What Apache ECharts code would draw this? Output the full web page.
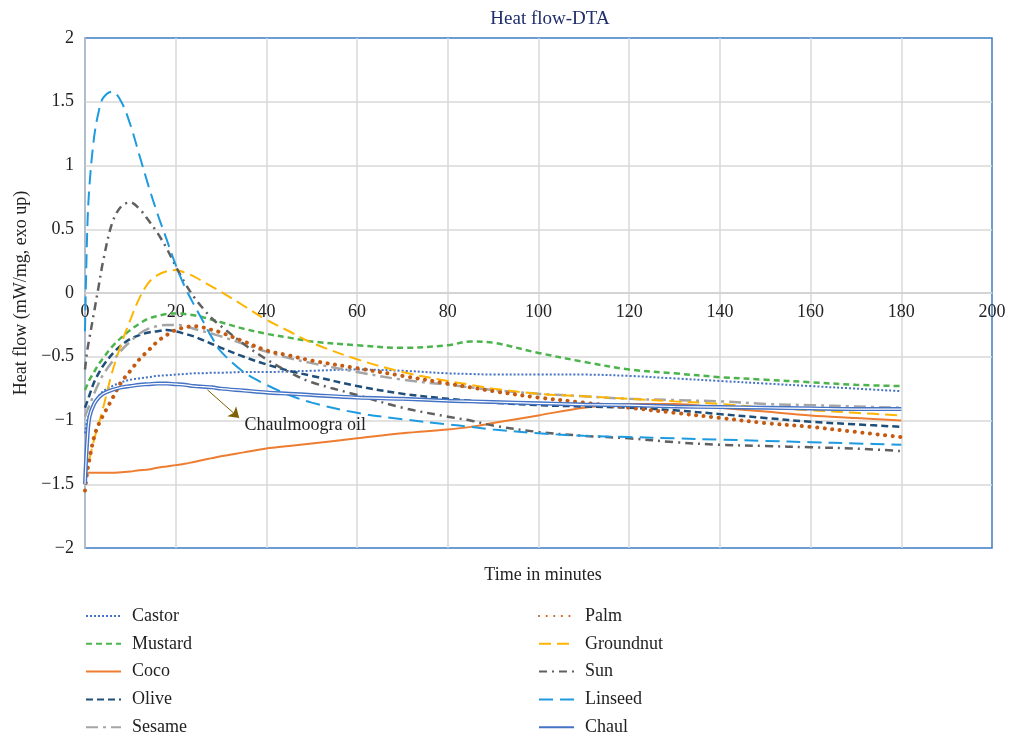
<!DOCTYPE html>
<html>
<head>
<meta charset="utf-8">
<script src="https://cdn.jsdelivr.net/npm/echarts@6/dist/echarts.min.js"></script>
<style>html,body{margin:0;padding:0;background:#fff}#c{width:1009px;height:737px}</style>
</head>
<body>
<div id="c"></div>
<script>
var times = [0, 0.5, 1, 2, 3, 4, 6, 8, 10, 12, 14, 16, 18, 20, 22, 24, 26, 28, 30, 35, 40, 45, 50, 60, 70, 80, 85, 90, 100, 110, 120, 130, 140, 150, 160, 170, 180];
var castor = [-1.1, -1.0, -0.95, -0.87, -0.81, -0.77, -0.73, -0.70, -0.68, -0.67, -0.66, -0.65, -0.645, -0.64, -0.635, -0.63, -0.63, -0.625, -0.625, -0.62, -0.62, -0.615, -0.61, -0.6, -0.61, -0.63, -0.635, -0.64, -0.64, -0.64, -0.65, -0.67, -0.69, -0.71, -0.73, -0.75, -0.77];
var mustard = [-0.76, -0.72, -0.68, -0.62, -0.56, -0.51, -0.42, -0.35, -0.29, -0.24, -0.2, -0.18, -0.165, -0.16, -0.165, -0.175, -0.19, -0.21, -0.23, -0.28, -0.32, -0.35, -0.38, -0.41, -0.43, -0.41, -0.38, -0.39, -0.47, -0.54, -0.6, -0.63, -0.66, -0.68, -0.70, -0.72, -0.73];
var coco = [-1.42, -1.41, -1.41, -1.41, -1.41, -1.41, -1.41, -1.405, -1.40, -1.39, -1.385, -1.37, -1.36, -1.35, -1.34, -1.325, -1.31, -1.295, -1.28, -1.25, -1.22, -1.2, -1.18, -1.14, -1.1, -1.07, -1.05, -1.02, -0.96, -0.9, -0.87, -0.87, -0.9, -0.93, -0.96, -0.98, -1.0];
var olive = [-0.9, -0.85, -0.8, -0.7, -0.63, -0.57, -0.48, -0.41, -0.36, -0.33, -0.31, -0.3, -0.29, -0.3, -0.32, -0.34, -0.37, -0.4, -0.43, -0.5, -0.56, -0.61, -0.65, -0.73, -0.79, -0.83, -0.845, -0.86, -0.88, -0.89, -0.9, -0.92, -0.95, -0.98, -1.01, -1.03, -1.05];
var sesame = [-0.97, -0.92, -0.88, -0.79, -0.71, -0.64, -0.54, -0.45, -0.38, -0.32, -0.28, -0.26, -0.25, -0.25, -0.26, -0.28, -0.3, -0.32, -0.34, -0.4, -0.46, -0.51, -0.55, -0.62, -0.68, -0.72, -0.74, -0.76, -0.79, -0.81, -0.83, -0.84, -0.85, -0.87, -0.88, -0.89, -0.9];
var palm = [-1.55, -1.4, -1.3, -1.13, -1.03, -0.96, -0.83, -0.7, -0.61, -0.52, -0.45, -0.38, -0.33, -0.29, -0.27, -0.26, -0.27, -0.29, -0.31, -0.38, -0.45, -0.49, -0.53, -0.59, -0.65, -0.71, -0.74, -0.77, -0.82, -0.86, -0.9, -0.94, -0.98, -1.02, -1.05, -1.09, -1.13];
var groundnut = [-1.45, -1.37, -1.3, -1.15, -1.03, -0.9, -0.62, -0.4, -0.21, -0.04, 0.08, 0.14, 0.17, 0.18, 0.16, 0.13, 0.09, 0.05, 0.01, -0.1, -0.21, -0.3, -0.39, -0.52, -0.62, -0.69, -0.72, -0.75, -0.79, -0.81, -0.83, -0.85, -0.87, -0.9, -0.92, -0.94, -0.96];
var sun = [-0.6, -0.45, -0.35, -0.15, 0.05, 0.25, 0.55, 0.68, 0.71, 0.66, 0.57, 0.47, 0.35, 0.21, 0.08, -0.03, -0.12, -0.2, -0.26, -0.4, -0.52, -0.62, -0.7, -0.8, -0.9, -0.97, -1.0, -1.04, -1.09, -1.12, -1.14, -1.17, -1.19, -1.2, -1.21, -1.22, -1.24];
var linseed = [-0.3, 0.5, 0.85, 1.22, 1.42, 1.53, 1.58, 1.5, 1.32, 1.08, 0.84, 0.62, 0.42, 0.22, 0.05, -0.09, -0.22, -0.35, -0.46, -0.62, -0.72, -0.8, -0.86, -0.94, -0.99, -1.03, -1.05, -1.07, -1.1, -1.12, -1.13, -1.14, -1.15, -1.16, -1.17, -1.18, -1.19];
var chaul = [-1.5, -1.15, -0.97, -0.87, -0.82, -0.79, -0.76, -0.74, -0.73, -0.72, -0.715, -0.71, -0.71, -0.715, -0.72, -0.73, -0.735, -0.74, -0.75, -0.765, -0.78, -0.79, -0.8, -0.82, -0.83, -0.845, -0.85, -0.855, -0.865, -0.875, -0.88, -0.89, -0.895, -0.9, -0.905, -0.91, -0.91];
var xTicks = {min: 0, max: 200, interval: 20};
var yTicks = {min: -2, max: 2, interval: 0.5};
var arrowFrom = [27, -0.76], arrowTo = [34, -0.98], noteAt = [34.5, -1.04];
var noteText = 'Chaulmoogra oil';

function pairs(v) { return times.map(function (t, i) { return [t, v[i]]; }); }
var FONT = '"Liberation Serif", "DejaVu Serif", serif';
var GRID = {left: 85, right: 17, top: 38, bottom: 189};
var plotH = 737 - GRID.top - GRID.bottom;
// x-axis labels sit on the y = 0 line
var zeroOffset = -((0 - yTicks.min) / (yTicks.max - yTicks.min)) * plotH;

function mk(name, data, color, width, type, extra) {
  var s = {
    name: name, type: 'line', data: pairs(data), showSymbol: false, symbol: 'none',
    smooth: 0.35,
    lineStyle: {color: color, width: width, type: type, cap: 'butt'},
    itemStyle: {color: color}, z: 3
  };
  if (extra) for (var k in extra) s[k] = extra[k];
  return s;
}
var series = [
  mk('Castor', castor, '#4472c4', 2, [2, 2]),
  mk('Mustard', mustard, '#4db34d', 2.5, [6, 4]),
  mk('Coco', coco, '#ed7d31', 2, 'solid'),
  mk('Olive', olive, '#1f4e79', 2.5, [7, 4]),
  mk('Sesame', sesame, '#a5a5a5', 2.5, [12, 5, 3, 5]),
  mk('Groundnut', groundnut, '#ffb400', 2, [12, 6]),
  mk('Sun', sun, '#606060', 2.5, [8, 5, 2, 5]),
  mk('Linseed', linseed, '#1e9be0', 2, [14, 7]),
  mk('Palm', palm, '#c55a11', 4, [0.1, 7.5]),
  mk('Chaul', chaul, '#4472c4', 4, 'solid', {
    markLine: {
      silent: true, animation: false, symbol: ['none', 'arrow'], symbolSize: 10,
      lineStyle: {color: '#7f6000', width: 1, type: 'solid'}, label: {show: false},
      data: [[{coord: arrowFrom}, {coord: arrowTo}]]
    },
    markPoint: {
      silent: true, animation: false, symbol: 'circle', symbolSize: 0,
      itemStyle: {color: 'transparent'},
      label: {show: true, position: 'right', distance: 3, formatter: noteText, fontFamily: FONT, fontSize: 18, color: '#222'},
      data: [{coord: noteAt}]
    }
  }),
  mk('ChaulInner', chaul, '#ffffff', 1.2, 'solid', {z: 4})
];
series[8].lineStyle.cap = 'round';

var legendText = {fontFamily: FONT, fontSize: 18, color: '#222', padding: [0, 0, 0, 6]};
function legendAt(left, names) {
  return {orient: 'vertical', left: left, top: 607, height: 400, padding: 0, itemWidth: 35, itemHeight: 14, itemGap: 9.8,
    itemStyle: {opacity: 0}, textStyle: legendText, data: names};
}
var option = {
  animation: false,
  backgroundColor: '#fff',
  title: [
    {text: 'Heat flow-DTA', left: 545, top: 5, textAlign: 'center',
      textStyle: {fontFamily: FONT, fontSize: 19, fontWeight: 'normal', color: '#1f2d6b'}},
    {text: 'Time in minutes', left: 538, top: 561, textAlign: 'center',
      textStyle: {fontFamily: FONT, fontSize: 18, fontWeight: 'normal', color: '#222'}}
  ],
  grid: {left: GRID.left, right: GRID.right, top: GRID.top, bottom: GRID.bottom, show: true, borderColor: '#3c7cc4', borderWidth: 1.5, backgroundColor: 'transparent'},
  legend: [
    legendAt(85, ['Castor', 'Mustard', 'Coco', 'Olive', 'Sesame']),
    legendAt(538, ['Palm', 'Groundnut', 'Sun', 'Linseed', 'Chaul'])
  ],
  xAxis: {type: 'value', min: xTicks.min, max: xTicks.max, interval: xTicks.interval,
    position: 'bottom', offset: zeroOffset,
    axisLine: {show: true, onZero: false, lineStyle: {color: '#d0d0d0', width: 1.5}},
    axisTick: {show: false},
    axisLabel: {fontFamily: FONT, fontSize: 18, color: '#222', margin: 10},
    splitLine: {show: true, showMinLine: false, showMaxLine: false, lineStyle: {color: '#d9d9d9', width: 1.5}}},
  yAxis: {type: 'value', min: yTicks.min, max: yTicks.max, interval: yTicks.interval,
    axisLine: {show: true, onZero: false, lineStyle: {color: '#c8c8c8', width: 1.5}},
    axisTick: {show: false},
    axisLabel: {fontFamily: FONT, fontSize: 18, color: '#222', margin: 11,
      formatter: function (v) { return String(v).replace('-', '\u2212'); }},
    splitLine: {show: true, showMinLine: false, showMaxLine: false, lineStyle: {color: '#d9d9d9', width: 1.5}},
    name: 'Heat flow (mW/mg, exo up)', nameLocation: 'middle', nameGap: 55, nameRotate: 90,
    nameTextStyle: {fontFamily: FONT, fontSize: 18, color: '#222'}},
  series: series
};
var chart = echarts.init(document.getElementById('c'), null, {renderer: 'canvas'});
chart.setOption(option);
</script>
</body>
</html>
